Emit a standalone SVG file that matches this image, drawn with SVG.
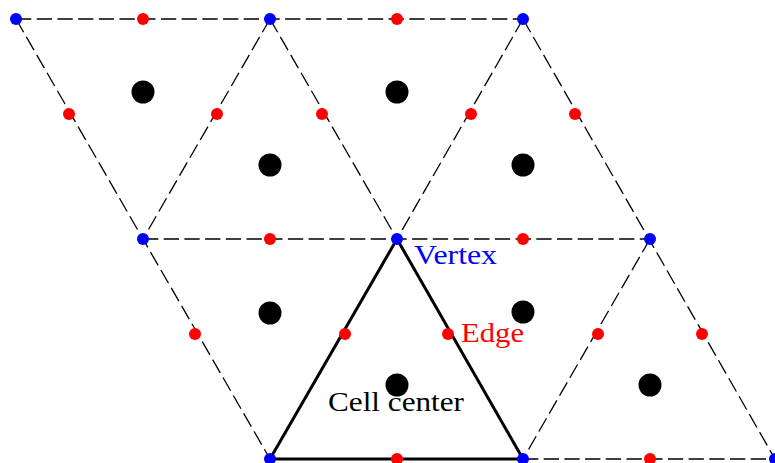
<svg xmlns="http://www.w3.org/2000/svg" width="775" height="463" viewBox="0 0 775 463">
<style>
.d{stroke:#000;stroke-width:1.3;stroke-dasharray:15.3 5.4;fill:none}
.t{stroke:#000;stroke-width:3;fill:none;stroke-linejoin:round}
.v{fill:#0000ff}
.e{fill:#ff0000}
.c{fill:#000}
text{font-family:"Liberation Serif","DejaVu Serif",serif;font-size:28px}
</style>
<rect width="775" height="463" fill="#fff"/>
<g id="connectors">
<line class="d" x1="16" y1="19" x2="523" y2="19"/>
<line class="d" x1="143" y1="239" x2="650" y2="239"/>
<line class="d" x1="523" y1="459" x2="775" y2="459"/>
<line class="d" x1="16" y1="19" x2="270" y2="459"/>
<line class="d" x1="270" y1="19" x2="143" y2="239"/>
<line class="d" x1="270" y1="19" x2="397" y2="239"/>
<line class="d" x1="523" y1="19" x2="397" y2="239"/>
<line class="d" x1="523" y1="19" x2="775" y2="459"/>
<line class="d" x1="650" y1="239" x2="523" y2="459"/>
<polygon class="t" points="397,239 270,459 523,459"/>
</g>
<g id="cells">
<circle class="c" cx="143" cy="92" r="11.5"/>
<circle class="c" cx="397" cy="92" r="11.5"/>
<circle class="c" cx="270" cy="165" r="11.5"/>
<circle class="c" cx="523" cy="165" r="11.5"/>
<circle class="c" cx="270" cy="313" r="11.5"/>
<circle class="c" cx="523" cy="312" r="11.5"/>
<circle class="c" cx="397" cy="385" r="11.5"/>
<circle class="c" cx="650" cy="385" r="11.5"/>
</g>
<g id="edges">
<circle class="e" cx="143" cy="19" r="6"/>
<circle class="e" cx="397" cy="19" r="6"/>
<circle class="e" cx="69" cy="114" r="6"/>
<circle class="e" cx="217" cy="114" r="6"/>
<circle class="e" cx="322" cy="114" r="6"/>
<circle class="e" cx="471" cy="114" r="6"/>
<circle class="e" cx="575" cy="114" r="6"/>
<circle class="e" cx="270" cy="239" r="6"/>
<circle class="e" cx="523" cy="239" r="6"/>
<circle class="e" cx="195" cy="334" r="6"/>
<circle class="e" cx="345" cy="334" r="6"/>
<circle class="e" cx="448" cy="334" r="6"/>
<circle class="e" cx="598" cy="334" r="6"/>
<circle class="e" cx="702" cy="334" r="6"/>
<circle class="e" cx="397" cy="459" r="6"/>
<circle class="e" cx="650" cy="459" r="6"/>
</g>
<g id="vertices">
<circle class="v" cx="16" cy="19" r="6"/>
<circle class="v" cx="270" cy="19" r="6"/>
<circle class="v" cx="523" cy="19" r="6"/>
<circle class="v" cx="143" cy="239" r="6"/>
<circle class="v" cx="397" cy="239" r="6"/>
<circle class="v" cx="650" cy="239" r="6"/>
<circle class="v" cx="270" cy="459" r="6"/>
<circle class="v" cx="523" cy="459" r="6"/>
<circle class="v" cx="775" cy="459" r="6"/>
</g>
<g id="labels">
<text x="414" y="264" fill="#0000ff" textLength="83" lengthAdjust="spacingAndGlyphs">Vertex</text>
<text x="461" y="342" fill="#ff0000" textLength="63" lengthAdjust="spacingAndGlyphs">Edge</text>
<text x="328" y="411" fill="#000" textLength="136" lengthAdjust="spacingAndGlyphs">Cell center</text>
</g>
</svg>
